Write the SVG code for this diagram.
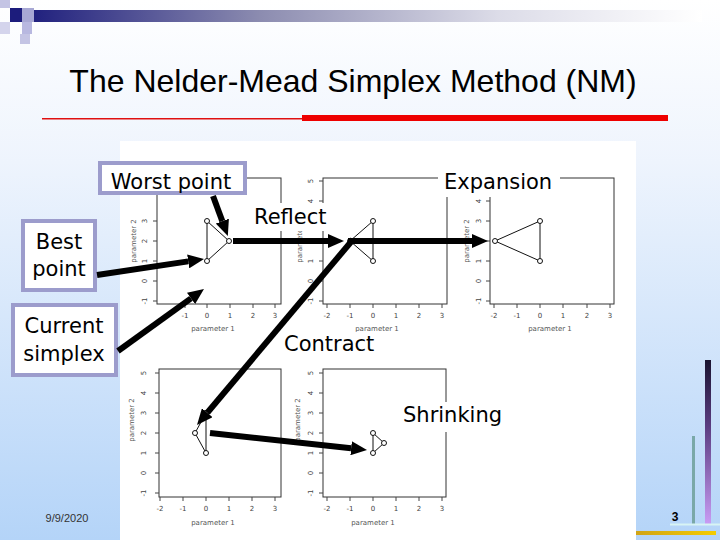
<svg xmlns="http://www.w3.org/2000/svg" width="720" height="540" viewBox="0 0 720 540">
<defs>
<linearGradient id="bg" x1="0" y1="0" x2="0" y2="1">
<stop offset="0" stop-color="#ffffff"/>
<stop offset="0.3" stop-color="#eef4fd"/>
<stop offset="1" stop-color="#b4d4f8"/>
</linearGradient>
<linearGradient id="bar" x1="0" y1="0" x2="1" y2="0">
<stop offset="0" stop-color="#1c1c7c"/>
<stop offset="0.35" stop-color="#8c8cb0"/>
<stop offset="0.7" stop-color="#dcdce8"/>
<stop offset="1" stop-color="#ffffff"/>
</linearGradient>
<linearGradient id="purp" x1="0" y1="0" x2="0" y2="1">
<stop offset="0" stop-color="#1a1430"/>
<stop offset="0.4" stop-color="#5a3c80"/>
<stop offset="1" stop-color="#c89cf4"/>
</linearGradient>
<linearGradient id="gold" x1="0" y1="0" x2="1" y2="0">
<stop offset="0" stop-color="#d0a418"/>
<stop offset="1" stop-color="#f4cc00"/>
</linearGradient>
<marker id="ah" markerUnits="userSpaceOnUse" markerWidth="16" markerHeight="14" refX="0" refY="7" orient="auto">
<path d="M0,0 L16,7 L0,14 z" fill="#000"/>
</marker>
<style>
.lbl{font-family:"DejaVu Sans",Verdana,sans-serif;font-size:21px;fill:#000}
.box{fill:#fff;stroke:#9c9ccc;stroke-width:4}
.frame{fill:none;stroke:#333;stroke-width:1}
.tk{stroke:#444;stroke-width:1}
.tl{font-family:"DejaVu Sans",sans-serif;font-size:7px;fill:#444;text-anchor:middle}
.ax{font-family:"DejaVu Sans",sans-serif;font-size:7px;fill:#555;text-anchor:middle}
.sx{fill:none;stroke:#111;stroke-width:1}
.pt{fill:#fff;stroke:#111;stroke-width:1}
.arr{stroke:#000;stroke-width:6;fill:none;marker-end:url(#ah)}
</style>
</defs>

<!-- background -->
<rect x="0" y="0" width="720" height="540" fill="url(#bg)"/>
<g id="decor">
<rect x="22" y="10" width="680" height="12" fill="url(#bar)"/>
<rect x="0" y="0" width="10" height="8" fill="#c4c4e4"/>
<rect x="10" y="8" width="12" height="14" fill="#1c1c7c"/>
<rect x="22" y="8" width="12" height="14" fill="#a8a8d4"/>
<rect x="22" y="22" width="10" height="12" fill="#b8b8e0"/>
<rect x="0" y="22" width="10" height="12" fill="#d4d4ec"/>
<rect x="20" y="34" width="10" height="10" fill="#c4c4e4"/>
</g>

<g id="title">
<text x="353" y="92" font-family="Liberation Sans,Arial,sans-serif" font-size="32" text-anchor="middle" fill="#000">The Nelder-Mead Simplex Method (NM)</text>
<rect x="42" y="118" width="260" height="1.5" fill="#e01010"/>
<rect x="302" y="115" width="366" height="6" fill="#ee0000"/>
</g>

<!-- image panel -->
<rect x="120" y="141" width="516" height="399" fill="#ffffff"/>

<!-- plot 1: current simplex -->
<g id="plot1">
<rect class="frame" x="157" y="178" width="124" height="126"/>
<g class="tk">
<line x1="153" y1="221" x2="157" y2="221"/><line x1="153" y1="241" x2="157" y2="241"/><line x1="153" y1="261" x2="157" y2="261"/><line x1="153" y1="281" x2="157" y2="281"/><line x1="153" y1="301" x2="157" y2="301"/>
<line x1="185" y1="304" x2="185" y2="308"/><line x1="207" y1="304" x2="207" y2="308"/><line x1="230" y1="304" x2="230" y2="308"/><line x1="253" y1="304" x2="253" y2="308"/><line x1="275" y1="304" x2="275" y2="308"/>
</g>
<text class="tl" transform="translate(147,221) rotate(-90)">3</text>
<text class="tl" transform="translate(147,241) rotate(-90)">2</text>
<text class="tl" transform="translate(147,261) rotate(-90)">1</text>
<text class="tl" transform="translate(147,281) rotate(-90)">0</text>
<text class="tl" transform="translate(147,301) rotate(-90)">-1</text>
<text class="tl" x="185" y="318">-1</text><text class="tl" x="207" y="318">0</text><text class="tl" x="230" y="318">1</text><text class="tl" x="253" y="318">2</text><text class="tl" x="275" y="318">3</text>
<text class="ax" x="213" y="331">parameter 1</text>
<text class="ax" transform="translate(136,241) rotate(-90)">parameter 2</text>
<polygon class="sx" points="207,221 229,241 207,261"/>
<circle class="pt" cx="207" cy="221" r="2.5"/><circle class="pt" cx="229" cy="241" r="2.5"/><circle class="pt" cx="207" cy="261" r="2.5"/>
</g>

<!-- plot 2: reflect -->
<g id="plot2">
<rect class="frame" x="323" y="178" width="124" height="126"/>
<g class="tk">
<line x1="319" y1="181" x2="323" y2="181"/><line x1="319" y1="201" x2="323" y2="201"/><line x1="319" y1="221" x2="323" y2="221"/><line x1="319" y1="241" x2="323" y2="241"/><line x1="319" y1="261" x2="323" y2="261"/><line x1="319" y1="281" x2="323" y2="281"/><line x1="319" y1="301" x2="323" y2="301"/>
<line x1="327" y1="304" x2="327" y2="308"/><line x1="350" y1="304" x2="350" y2="308"/><line x1="373" y1="304" x2="373" y2="308"/><line x1="396" y1="304" x2="396" y2="308"/><line x1="419" y1="304" x2="419" y2="308"/><line x1="442" y1="304" x2="442" y2="308"/>
</g>
<text class="tl" transform="translate(313,181) rotate(-90)">5</text>
<text class="tl" transform="translate(313,201) rotate(-90)">4</text>
<text class="tl" transform="translate(313,221) rotate(-90)">3</text>
<text class="tl" transform="translate(313,261) rotate(-90)">1</text>
<text class="tl" transform="translate(313,281) rotate(-90)">0</text>
<text class="tl" transform="translate(313,301) rotate(-90)">-1</text>
<text class="tl" x="327" y="318">-2</text><text class="tl" x="350" y="318">-1</text><text class="tl" x="373" y="318">0</text><text class="tl" x="396" y="318">1</text><text class="tl" x="419" y="318">2</text><text class="tl" x="442" y="318">3</text>
<text class="ax" x="377" y="331">parameter 1</text>
<text class="ax" transform="translate(302,241) rotate(-90)">parameter 2</text>
<polygon class="sx" points="373,221 350,241 373,261"/>
<circle class="pt" cx="373" cy="221" r="2.5"/><circle class="pt" cx="350" cy="241" r="2.5"/><circle class="pt" cx="373" cy="261" r="2.5"/>
</g>

<!-- plot 3: expansion -->
<g id="plot3">
<rect class="frame" x="490" y="178" width="124" height="126"/>
<g class="tk">
<line x1="486" y1="201" x2="490" y2="201"/><line x1="486" y1="221" x2="490" y2="221"/><line x1="486" y1="241" x2="490" y2="241"/><line x1="486" y1="261" x2="490" y2="261"/><line x1="486" y1="281" x2="490" y2="281"/><line x1="486" y1="301" x2="490" y2="301"/>
<line x1="494" y1="304" x2="494" y2="308"/><line x1="517" y1="304" x2="517" y2="308"/><line x1="540" y1="304" x2="540" y2="308"/><line x1="563" y1="304" x2="563" y2="308"/><line x1="587" y1="304" x2="587" y2="308"/><line x1="610" y1="304" x2="610" y2="308"/>
</g>
<text class="tl" transform="translate(481,201) rotate(-90)">4</text>
<text class="tl" transform="translate(481,221) rotate(-90)">3</text>
<text class="tl" transform="translate(481,261) rotate(-90)">1</text>
<text class="tl" transform="translate(481,281) rotate(-90)">0</text>
<text class="tl" transform="translate(481,301) rotate(-90)">-1</text>
<text class="tl" x="494" y="318">-2</text><text class="tl" x="517" y="318">-1</text><text class="tl" x="540" y="318">0</text><text class="tl" x="563" y="318">1</text><text class="tl" x="587" y="318">2</text><text class="tl" x="610" y="318">3</text>
<text class="ax" x="550" y="331">parameter 1</text>
<text class="ax" transform="translate(469,241) rotate(-90)">parameter 2</text>
<polygon class="sx" points="540,221 495,241 540,261"/>
<circle class="pt" cx="540" cy="221" r="2.5"/><circle class="pt" cx="495" cy="241" r="2.5"/><circle class="pt" cx="540" cy="261" r="2.5"/>
</g>

<!-- plot 4: contract -->
<g id="plot4">
<rect class="frame" x="159" y="369" width="122" height="128"/>
<g class="tk">
<line x1="155" y1="373" x2="159" y2="373"/><line x1="155" y1="393" x2="159" y2="393"/><line x1="155" y1="413" x2="159" y2="413"/><line x1="155" y1="433" x2="159" y2="433"/><line x1="155" y1="453" x2="159" y2="453"/><line x1="155" y1="473" x2="159" y2="473"/><line x1="155" y1="493" x2="159" y2="493"/>
<line x1="160" y1="497" x2="160" y2="501"/><line x1="183" y1="497" x2="183" y2="501"/><line x1="206" y1="497" x2="206" y2="501"/><line x1="229" y1="497" x2="229" y2="501"/><line x1="252" y1="497" x2="252" y2="501"/><line x1="275" y1="497" x2="275" y2="501"/>
</g>
<text class="tl" transform="translate(146,373) rotate(-90)">5</text>
<text class="tl" transform="translate(146,393) rotate(-90)">4</text>
<text class="tl" transform="translate(146,413) rotate(-90)">3</text>
<text class="tl" transform="translate(146,433) rotate(-90)">2</text>
<text class="tl" transform="translate(146,453) rotate(-90)">1</text>
<text class="tl" transform="translate(146,473) rotate(-90)">0</text>
<text class="tl" transform="translate(146,493) rotate(-90)">-1</text>
<text class="tl" x="160" y="511">-2</text><text class="tl" x="183" y="511">-1</text><text class="tl" x="206" y="511">0</text><text class="tl" x="229" y="511">1</text><text class="tl" x="252" y="511">2</text><text class="tl" x="275" y="511">3</text>
<text class="ax" x="213" y="525">parameter 1</text>
<text class="ax" transform="translate(134,420) rotate(-90)">parameter 2</text>
<polygon class="sx" points="206,413 195,433 206,453"/>
<circle class="pt" cx="206" cy="413" r="2.5"/><circle class="pt" cx="195" cy="433" r="2.5"/><circle class="pt" cx="206" cy="453" r="2.5"/>
</g>

<!-- plot 5: shrinking -->
<g id="plot5">
<rect class="frame" x="323" y="369" width="123" height="128"/>
<g class="tk">
<line x1="319" y1="373" x2="323" y2="373"/><line x1="319" y1="393" x2="323" y2="393"/><line x1="319" y1="413" x2="323" y2="413"/><line x1="319" y1="433" x2="323" y2="433"/><line x1="319" y1="453" x2="323" y2="453"/><line x1="319" y1="473" x2="323" y2="473"/><line x1="319" y1="493" x2="323" y2="493"/>
<line x1="327" y1="497" x2="327" y2="501"/><line x1="350" y1="497" x2="350" y2="501"/><line x1="373" y1="497" x2="373" y2="501"/><line x1="396" y1="497" x2="396" y2="501"/><line x1="419" y1="497" x2="419" y2="501"/><line x1="442" y1="497" x2="442" y2="501"/>
</g>
<text class="tl" transform="translate(313,373) rotate(-90)">5</text>
<text class="tl" transform="translate(313,393) rotate(-90)">4</text>
<text class="tl" transform="translate(313,413) rotate(-90)">3</text>
<text class="tl" transform="translate(313,433) rotate(-90)">2</text>
<text class="tl" transform="translate(313,453) rotate(-90)">1</text>
<text class="tl" transform="translate(313,473) rotate(-90)">0</text>
<text class="tl" transform="translate(313,493) rotate(-90)">-1</text>
<text class="tl" x="327" y="511">-2</text><text class="tl" x="350" y="511">-1</text><text class="tl" x="373" y="511">0</text><text class="tl" x="396" y="511">1</text><text class="tl" x="419" y="511">2</text><text class="tl" x="442" y="511">3</text>
<text class="ax" x="373" y="525">parameter 1</text>
<text class="ax" transform="translate(300,420) rotate(-90)">parameter 2</text>
<polygon class="sx" points="373,433 384,443 373,453"/>
<circle class="pt" cx="373" cy="433" r="2.5"/><circle class="pt" cx="384" cy="443" r="2.5"/><circle class="pt" cx="373" cy="453" r="2.5"/>
</g>

<!-- labels -->
<g id="worst">
<rect class="box" x="100" y="163" width="145" height="30"/>
<text class="lbl" x="171" y="189" text-anchor="middle">Worst point</text>
</g>
<g id="best">
<rect class="box" x="23" y="221" width="72" height="69"/>
<text class="lbl" x="59" y="249" text-anchor="middle">Best</text>
<text class="lbl" x="59" y="276" text-anchor="middle">point</text>
</g>
<g id="current">
<rect class="box" x="13" y="305" width="103" height="70"/>
<text class="lbl" x="64" y="333" text-anchor="middle">Current</text>
<text class="lbl" x="64" y="361" text-anchor="middle">simplex</text>
</g>
<g id="reflect">
<rect x="251" y="203" width="77" height="28" fill="#fff"/>
<text class="lbl" x="254" y="224">Reflect</text>
</g>
<g id="expansion">
<rect x="438" y="165" width="122" height="32" fill="#fff"/>
<text class="lbl" x="444" y="189">Expansion</text>
</g>
<g id="contract">
<rect x="281" y="332" width="95" height="26" fill="#fff"/>
<text class="lbl" x="284" y="351">Contract</text>
</g>
<g id="shrinking">
<rect x="400" y="402" width="103" height="30" fill="#fff"/>
<text class="lbl" x="403" y="422">Shrinking</text>
</g>

<!-- connectors -->
<g id="connectors">
<line class="arr" x1="213" y1="196" x2="222.3" y2="221.1"/>
<line class="arr" x1="97" y1="275" x2="188.2" y2="261.4"/>
<line class="arr" x1="118" y1="351" x2="191" y2="298.4"/>
<line class="arr" x1="233" y1="241" x2="328" y2="241"/>
<line class="arr" x1="348" y1="241" x2="472" y2="241"/>
<line class="arr" x1="353" y1="239.5" x2="207.3" y2="412.7"/>
<line class="arr" x1="210" y1="433" x2="351.1" y2="448.3"/>
</g>

<!-- footer -->
<g id="footer">
<text x="67" y="522" font-family="Liberation Sans,Arial,sans-serif" font-size="11" fill="#333" text-anchor="middle">9/9/2020</text>
<text x="675" y="521" font-family="Liberation Sans,Arial,sans-serif" font-size="12" font-weight="bold" fill="#000" text-anchor="middle">3</text>
<rect x="692" y="436" width="3" height="88" fill="#7aa8a8"/>
<rect x="705" y="360" width="6" height="164" fill="url(#purp)"/>
<rect x="670" y="523.5" width="50" height="2" fill="#d8f4f4"/>
<rect x="636" y="531" width="80" height="4" fill="url(#gold)"/>
</g>
</svg>
